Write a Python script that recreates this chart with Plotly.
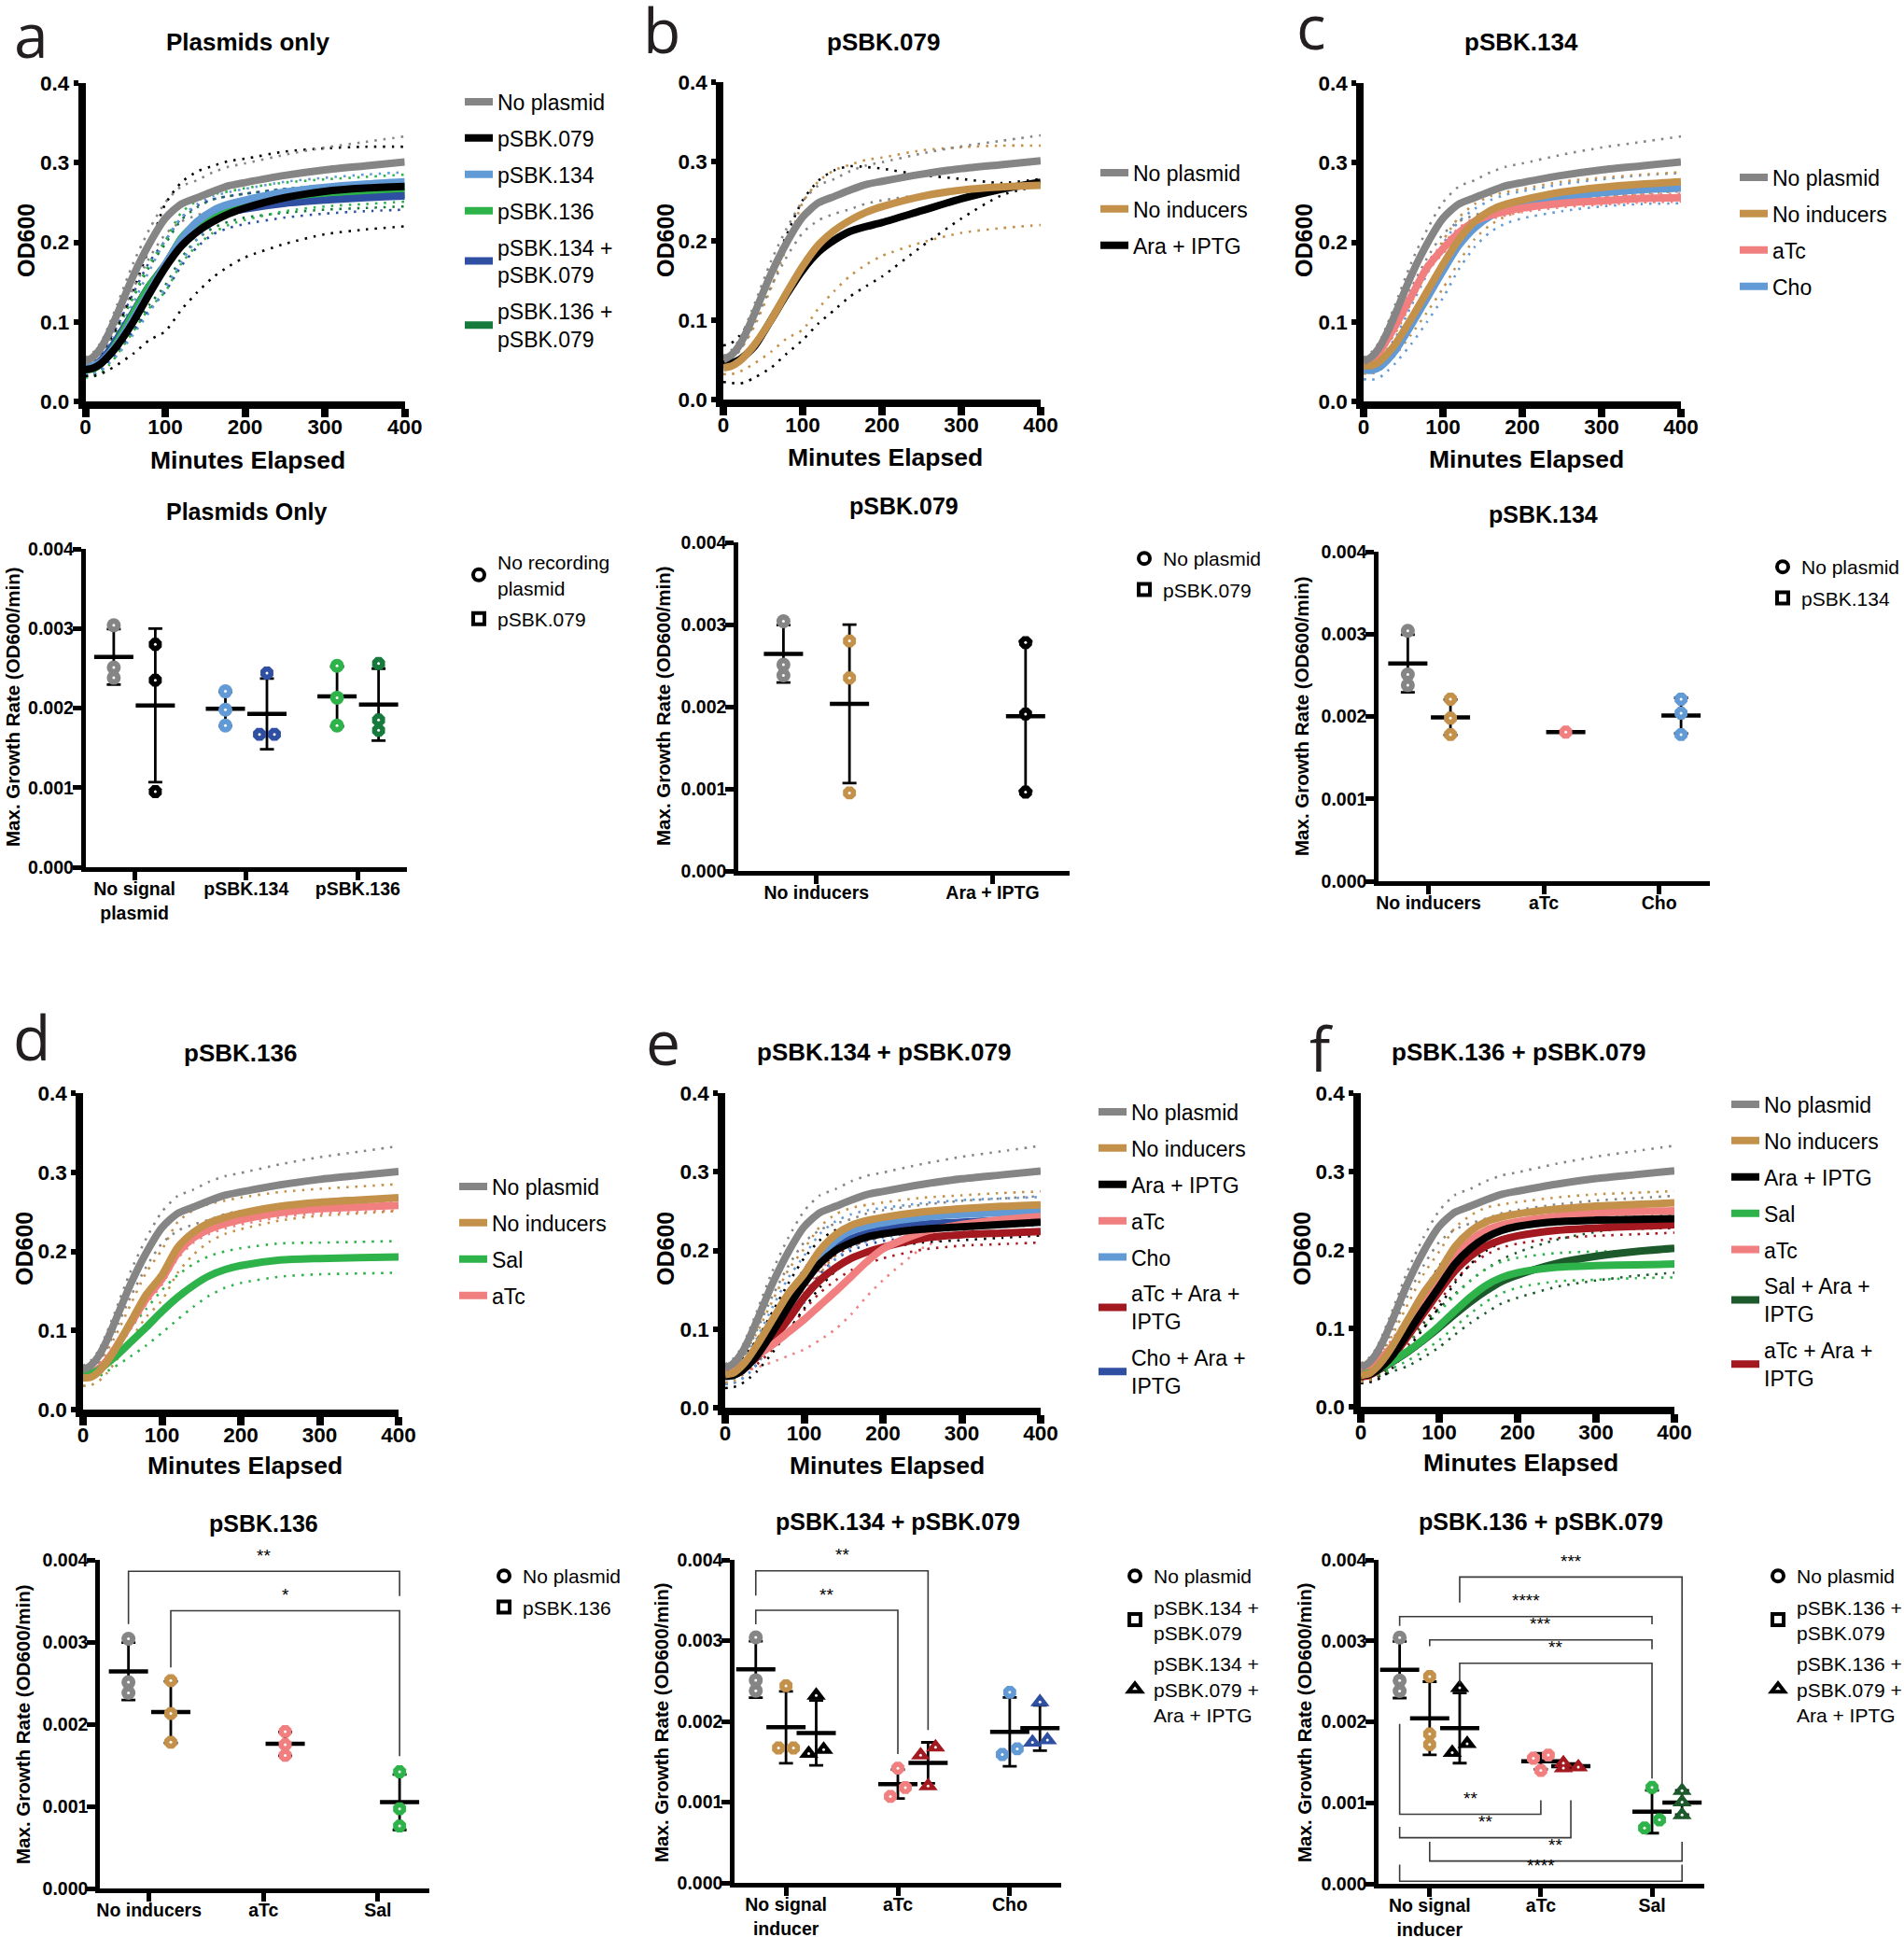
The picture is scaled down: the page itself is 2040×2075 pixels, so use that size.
import numpy as np
import plotly.graph_objects as go

W, H = 2040, 2075
SANS = "Liberation Sans, Arial, Helvetica, sans-serif"
LETTERF = "Open Sans, Noto Sans, sans-serif"

# ---------------- growth-curve data (OD600 mean and SD) ----------------
TIME = [0, 10, 20, 30, 40, 60, 80, 100, 120, 140, 160, 180, 200, 250, 300, 350, 400]

NP_MEAN = [0.050, 0.056, 0.068, 0.087, 0.110, 0.158, 0.198, 0.230, 0.248, 0.256, 0.264, 0.271, 0.275, 0.284, 0.291, 0.296, 0.301]
NP_SD = [0.005, 0.006, 0.007, 0.010, 0.012, 0.016, 0.018, 0.020, 0.022, 0.022, 0.024, 0.024, 0.024, 0.026, 0.028, 0.030, 0.032]

S079_MEAN = [0.040, 0.042, 0.048, 0.058, 0.070, 0.100, 0.135, 0.168, 0.195, 0.213, 0.226, 0.236, 0.243, 0.256, 0.264, 0.268, 0.270]
S079_SD = [0.008, 0.010, 0.013, 0.018, 0.024, 0.040, 0.058, 0.080, 0.080, 0.076, 0.070, 0.066, 0.062, 0.058, 0.054, 0.052, 0.050]

S134_MEAN = [0.045, 0.045, 0.050, 0.060, 0.072, 0.104, 0.138, 0.172, 0.203, 0.226, 0.240, 0.248, 0.253, 0.263, 0.269, 0.273, 0.276]
S134_SD = [0.010, 0.010, 0.011, 0.012, 0.014, 0.020, 0.026, 0.030, 0.028, 0.022, 0.018, 0.015, 0.014, 0.013, 0.012, 0.012, 0.012]

S136_MEAN = [0.040, 0.041, 0.048, 0.060, 0.075, 0.110, 0.145, 0.170, 0.205, 0.224, 0.236, 0.243, 0.248, 0.257, 0.262, 0.265, 0.268]
S136_SD = [0.010, 0.010, 0.012, 0.014, 0.016, 0.022, 0.028, 0.032, 0.032, 0.028, 0.024, 0.021, 0.020, 0.018, 0.017, 0.017, 0.017]

S134_079_MEAN = [0.042, 0.044, 0.052, 0.064, 0.079, 0.112, 0.145, 0.170, 0.200, 0.220, 0.232, 0.238, 0.242, 0.249, 0.253, 0.256, 0.258]
S134_079_SD = [0.010, 0.010, 0.012, 0.014, 0.016, 0.024, 0.030, 0.032, 0.030, 0.026, 0.022, 0.020, 0.019, 0.018, 0.017, 0.017, 0.017]

S136_079_MEAN = [0.040, 0.042, 0.050, 0.062, 0.077, 0.111, 0.145, 0.172, 0.204, 0.224, 0.236, 0.242, 0.246, 0.252, 0.256, 0.258, 0.260]
S136_079_SD = [0.008, 0.009, 0.010, 0.012, 0.014, 0.020, 0.024, 0.026, 0.024, 0.020, 0.018, 0.016, 0.015, 0.015, 0.015, 0.015, 0.015]

B_ARA_MEAN = [0.045, 0.046, 0.050, 0.058, 0.068, 0.100, 0.133, 0.163, 0.186, 0.201, 0.212, 0.218, 0.223, 0.238, 0.253, 0.265, 0.274]
B_ARA_SD = [0.023, 0.025, 0.030, 0.035, 0.040, 0.060, 0.075, 0.088, 0.090, 0.088, 0.082, 0.075, 0.068, 0.045, 0.025, 0.008, 0.004]

C_ATC_MEAN = [0.048, 0.052, 0.062, 0.078, 0.095, 0.132, 0.168, 0.192, 0.212, 0.226, 0.234, 0.239, 0.243, 0.249, 0.252, 0.255, 0.256]
C_ATC_SD = [0.004, 0.004, 0.004, 0.005, 0.005, 0.006, 0.006, 0.006, 0.006, 0.005, 0.005, 0.005, 0.005, 0.005, 0.005, 0.005, 0.005]
C_CHO_MEAN = [0.040, 0.039, 0.043, 0.052, 0.064, 0.096, 0.130, 0.164, 0.196, 0.218, 0.233, 0.242, 0.247, 0.256, 0.262, 0.266, 0.268]
C_CHO_SD = [0.012, 0.012, 0.013, 0.014, 0.016, 0.024, 0.030, 0.034, 0.030, 0.024, 0.020, 0.018, 0.017, 0.017, 0.017, 0.018, 0.019]

D_SAL_MEAN = [0.045, 0.046, 0.050, 0.058, 0.066, 0.085, 0.104, 0.124, 0.142, 0.157, 0.169, 0.177, 0.182, 0.189, 0.191, 0.192, 0.193]
D_SAL_SD = [0.005, 0.006, 0.008, 0.010, 0.012, 0.018, 0.023, 0.027, 0.028, 0.027, 0.025, 0.023, 0.022, 0.021, 0.020, 0.020, 0.020]
D_ATC_MEAN = [0.045, 0.046, 0.052, 0.062, 0.076, 0.108, 0.140, 0.165, 0.198, 0.217, 0.228, 0.235, 0.240, 0.249, 0.254, 0.256, 0.258]
D_ATC_SD = [0.005, 0.005, 0.005, 0.006, 0.006, 0.007, 0.007, 0.007, 0.007, 0.006, 0.006, 0.006, 0.006, 0.006, 0.006, 0.006, 0.006]

E_ARA_MEAN = [0.040, 0.041, 0.046, 0.055, 0.066, 0.096, 0.128, 0.158, 0.183, 0.200, 0.210, 0.217, 0.221, 0.227, 0.230, 0.233, 0.236]
E_ARA_SD = [0.015, 0.015, 0.016, 0.018, 0.020, 0.026, 0.030, 0.032, 0.030, 0.026, 0.022, 0.019, 0.018, 0.017, 0.017, 0.017, 0.017]
E_ATC_MEAN = [0.048, 0.050, 0.054, 0.060, 0.066, 0.080, 0.096, 0.112, 0.130, 0.148, 0.167, 0.186, 0.202, 0.223, 0.233, 0.239, 0.243]
E_ATC_SD = [0.006, 0.008, 0.010, 0.012, 0.015, 0.022, 0.030, 0.038, 0.044, 0.048, 0.048, 0.044, 0.040, 0.020, 0.010, 0.007, 0.006]
E_CHO_MEAN = [0.040, 0.041, 0.048, 0.058, 0.072, 0.104, 0.137, 0.163, 0.193, 0.213, 0.225, 0.231, 0.235, 0.242, 0.246, 0.248, 0.250]
E_CHO_SD = [0.010, 0.010, 0.012, 0.014, 0.016, 0.024, 0.028, 0.030, 0.028, 0.024, 0.021, 0.020, 0.019, 0.018, 0.018, 0.018, 0.018]
E_ATC_ARA_MEAN = [0.045, 0.046, 0.050, 0.056, 0.064, 0.086, 0.112, 0.140, 0.162, 0.178, 0.190, 0.198, 0.204, 0.215, 0.220, 0.222, 0.224]
E_ATC_ARA_SD = [0.006, 0.006, 0.007, 0.008, 0.009, 0.012, 0.014, 0.016, 0.016, 0.016, 0.015, 0.015, 0.014, 0.014, 0.014, 0.014, 0.014]
E_CHO_ARA_MEAN = [0.040, 0.041, 0.047, 0.056, 0.068, 0.099, 0.131, 0.160, 0.186, 0.204, 0.215, 0.222, 0.227, 0.233, 0.236, 0.238, 0.240]
E_CHO_ARA_SD = [0.010, 0.010, 0.011, 0.012, 0.013, 0.015, 0.016, 0.016, 0.016, 0.015, 0.015, 0.015, 0.015, 0.015, 0.015, 0.015, 0.015]

F_ARA_MEAN = [0.040, 0.041, 0.046, 0.054, 0.065, 0.094, 0.124, 0.153, 0.182, 0.202, 0.216, 0.225, 0.230, 0.236, 0.238, 0.239, 0.240]
F_ARA_SD = [0.010, 0.010, 0.012, 0.014, 0.016, 0.020, 0.024, 0.026, 0.024, 0.020, 0.017, 0.015, 0.014, 0.013, 0.012, 0.012, 0.012]
F_SAL_MEAN = [0.040, 0.043, 0.047, 0.052, 0.058, 0.071, 0.086, 0.103, 0.122, 0.140, 0.155, 0.165, 0.171, 0.178, 0.180, 0.181, 0.182]
F_SAL_SD = [0.005, 0.006, 0.007, 0.008, 0.009, 0.012, 0.015, 0.018, 0.020, 0.021, 0.021, 0.020, 0.019, 0.018, 0.018, 0.017, 0.017]
F_ATC_MEAN = [0.050, 0.052, 0.058, 0.066, 0.077, 0.106, 0.136, 0.162, 0.192, 0.212, 0.225, 0.232, 0.236, 0.243, 0.247, 0.249, 0.250]
F_ATC_SD = [0.006, 0.006, 0.007, 0.008, 0.009, 0.010, 0.011, 0.011, 0.010, 0.009, 0.009, 0.008, 0.008, 0.008, 0.008, 0.008, 0.008]
F_SAL_ARA_MEAN = [0.040, 0.042, 0.046, 0.051, 0.057, 0.070, 0.085, 0.101, 0.118, 0.134, 0.148, 0.160, 0.168, 0.183, 0.192, 0.198, 0.202]
F_SAL_ARA_SD = [0.005, 0.006, 0.008, 0.010, 0.012, 0.018, 0.022, 0.025, 0.026, 0.027, 0.028, 0.028, 0.029, 0.030, 0.031, 0.031, 0.031]
F_ATC_ARA_MEAN = [0.038, 0.040, 0.045, 0.053, 0.063, 0.090, 0.119, 0.147, 0.173, 0.192, 0.205, 0.213, 0.218, 0.225, 0.228, 0.230, 0.232]
F_ATC_ARA_SD = [0.006, 0.007, 0.008, 0.009, 0.010, 0.012, 0.013, 0.013, 0.012, 0.011, 0.011, 0.010, 0.010, 0.010, 0.010, 0.010, 0.010]

# ---------------- max growth rate data (replicates) ----------------
RATE_NP = [0.00304, 0.00251, 0.00238]
RATE_079 = [0.00280, 0.00235, 0.00095]
RATE_134 = [0.00221, 0.00198, 0.00178]
RATE_134_079 = [0.00244, 0.00167, 0.00167]
RATE_136 = [0.00253, 0.00213, 0.00178]
RATE_136_079 = [0.00256, 0.00185, 0.00172]
RATE_B_ARA = [0.00278, 0.00191, 0.00096]
RATE_C_ATC = [0.00181]
RATE_C_CHO = [0.00221, 0.00204, 0.00178]
RATE_D_ATC = [0.00191, 0.00175, 0.00162]
RATE_D_SAL = [0.00142, 0.00097, 0.00076]
RATE_E_ARA = [0.00232, 0.00165, 0.00160]
RATE_E_ATC = [0.00142, 0.00118, 0.00107]
RATE_E_ATC_ARA = [0.00168, 0.00158, 0.00120]
RATE_E_CHO = [0.00236, 0.00166, 0.00159]
RATE_E_CHO_ARA = [0.00224, 0.00177, 0.00174]
RATE_F_ARA = [0.00242, 0.00173, 0.00162]
RATE_F_ATC = [0.00159, 0.00155, 0.00140]
RATE_F_ATC_ARA = [0.00149, 0.00144, 0.00143]
RATE_F_SAL = [0.00119, 0.00079, 0.00069]
RATE_F_SAL_ARA = [0.00115, 0.00101, 0.00085]

# significance comparisons: (group i, group j, bar level, end i, end j, label)
D_COMP = [(0, 3, 0.00386, 0.00322, 0.00356, "**"), (1, 3, 0.00338, 0.00269, 0.00161, "*")]
E_COMP = [(0, 4, 0.003865, 0.003557, 0.001894, "**"), (0, 3, 0.003376, 0.003203, 0.001594, "**")]
F_COMP = [
    (2, 6, 0.003788, 0.003473, 0.001242, "***"),
    (0, 5, 0.003300, 0.003185, 0.003204, "****"),
    (1, 5, 0.003012, 0.002935, 0.002897, "***"),
    (2, 5, 0.002723, 0.002473, 0.001300, "**"),
    (0, 3, 0.000858, 0.001973, 0.001031, "**"),
    (0, 4, 0.000569, 0.000704, 0.001031, "**"),
    (1, 6, 0.000281, 0.000519, 0.000519, "**"),
    (0, 6, 0.000031, 0.000235, 0.000235, "****"),
]

GREY = "#858585"
BLACK = "#000000"
LBLUE = "#629ad6"
GREEN = "#2eb34a"
DBLUE = "#2f4fa2"
DGREEN = "#157a3c"
DDGREEN = "#1d5a2b"
GOLD = "#c4914a"
PINK = "#f17f7f"
DRED = "#a3191f"


def fx(px):
    return px / W


def fy(py):
    return 1 - py / H


def names(n):
    s = "" if n == 1 else str(n)
    return "x" + s, "y" + s, "xaxis" + s, "yaxis" + s, "legend" + s


fig = go.Figure()
layout = dict(width=W, height=H, margin=dict(l=0, r=0, t=0, b=0, autoexpand=False),
              paper_bgcolor="white", plot_bgcolor="white",
              font=dict(family=SANS, color="black"), showlegend=True)
annotations = []
shapes = []

GAX = dict(showline=True, linewidth=7.5, linecolor="black", ticks="outside", tickcolor="black",
           tickfont=dict(family=SANS, size=22.5, color="black", weight="bold"),
           showgrid=False, zeroline=False, fixedrange=True)
RAX = dict(showline=True, linewidth=4.5, linecolor="black", ticks="outside", tickcolor="black",
           tickfont=dict(family=SANS, size=19.5, color="black", weight="bold"),
           showgrid=False, zeroline=False, fixedrange=True, ticklen=9, tickwidth=4.5)


def growth_panel(n, box, leg, series):
    xr, yr, xk, yk, lg = names(n)
    x0, x1, y0, y1 = box
    layout[xk] = dict(domain=[fx(x0), fx(x1)], anchor=yr, range=[0, 400],
                      tickvals=[0, 100, 200, 300, 400], ticklen=9, tickwidth=8,
                      ticklabelstandoff=-9, **GAX)
    layout[yk] = dict(domain=[fy(y1), fy(y0)], anchor=xr, range=[0, 0.4],
                      tickvals=[0, 0.1, 0.2, 0.3, 0.4], tickformat=".1f", ticklen=5, tickwidth=6, **GAX)
    layout[lg] = dict(x=fx(leg[0]), y=fy(leg[1]), xanchor="left", yanchor="top",
                      font=dict(family=SANS, size=23, color="black"), tracegroupgap=6,
                      traceorder="grouped", bgcolor="rgba(0,0,0,0)", borderwidth=0, itemwidth=30)
    order = list(enumerate(series))[::-1]
    for i, (label, color, mean, sd) in order:
        m = np.asarray(mean)
        s = np.asarray(sd)
        for band in (m + s, m - s):
            fig.add_trace(go.Scatter(x=TIME, y=band, mode="lines", xaxis=xr, yaxis=yr,
                                     line=dict(color=color, width=2.6, dash="2.5px,7px",
                                               shape="spline", smoothing=0.7),
                                     showlegend=False, hoverinfo="skip"))
    for i, (label, color, mean, sd) in order:
        fig.add_trace(go.Scatter(x=TIME, y=mean, mode="lines", xaxis=xr, yaxis=yr, name=label,
                                 line=dict(color=color, width=8, shape="spline", smoothing=0.7),
                                 legend=lg, legendgroup="g%d_%d" % (n, i), legendrank=i + 1))


def swarm(vals, d, thr=0.00012):
    v = np.asarray(vals, float)
    order = np.argsort(v)
    offs = np.zeros(len(v))
    for k in range(1, len(order)):
        i, j = order[k], order[k - 1]
        if abs(v[i] - v[j]) < thr:
            if offs[j] == 0:
                offs[j] = -d
                offs[i] = d
            else:
                offs[i] = -offs[j]
    return offs


def rate_panel(n, box, xrange_, cats, groups, leg, legend_items, comps=()):
    xr, yr, xk, yk, lg = names(n)
    x0, x1, y0, y1 = box
    layout[xk] = dict(domain=[fx(x0), fx(x1)], anchor=yr, range=xrange_,
                      tickvals=list(range(len(cats))), ticktext=cats, ticklabelstandoff=-7, **RAX)
    layout[yk] = dict(domain=[fy(y1), fy(y0)], anchor=xr, range=[0, 0.004],
                      tickvals=[0, 0.001, 0.002, 0.003, 0.004], tickformat=".3f",
                      ticklabelstandoff=-5, **RAX)
    layout[lg] = dict(x=fx(leg[0]), y=fy(leg[1]), xanchor="left", yanchor="top",
                      font=dict(family=SANS, size=21, color="black"), tracegroupgap=3,
                      traceorder="grouped", bgcolor="rgba(0,0,0,0)", borderwidth=0, itemwidth=30)
    ppu = (x1 - x0) / (xrange_[1] - xrange_[0])
    jit = 8.0 / ppu
    pos = []
    for (cat, off, color, symbol, vals) in groups:
        xc = cat + off
        v = np.asarray(vals, float)
        mean = v.mean()
        sd = v.std(ddof=1) if len(v) > 1 else 0.0
        fig.add_trace(go.Scatter(x=[xc], y=[mean], mode="markers", xaxis=xr, yaxis=yr,
                                 marker=dict(symbol="line-ew", size=30, color="black",
                                             line=dict(width=4.5, color="black")),
                                 error_y=dict(type="data", array=[sd], visible=True, color="black",
                                              thickness=2.8, width=7.5),
                                 showlegend=False, hoverinfo="skip"))
        xs = xc + swarm(v, jit)
        fig.add_trace(go.Scatter(x=xs, y=v, mode="markers", xaxis=xr, yaxis=yr,
                                 marker=dict(symbol=symbol, size=15 if symbol != "triangle-up" else 18,
                                             color=color, line=dict(width=0)),
                                 showlegend=False))
        fig.add_trace(go.Scatter(x=xs, y=v, mode="markers", xaxis=xr, yaxis=yr,
                                 marker=dict(symbol="circle", size=3, color="white"),
                                 showlegend=False, hoverinfo="skip"))
        pos.append(xc)
    for k, (label, symbol) in enumerate(legend_items):
        fig.add_trace(go.Scatter(x=[None], y=[None], mode="markers", xaxis=xr, yaxis=yr, name=label,
                                 marker=dict(symbol=symbol + "-open", size=12, color="black",
                                             line=dict(width=4, color="black")),
                                 legend=lg, legendgroup="r%d_%d" % (n, k), legendrank=k + 1))
    for (gi, gj, ybar, yi, yj, label) in comps:
        xi, xj = pos[gi], pos[gj]
        shapes.append(dict(type="path", xref=xr, yref=yr,
                           path="M %f,%f L %f,%f L %f,%f L %f,%f" % (xi, yi, xi, ybar, xj, ybar, xj, yj),
                           line=dict(color="#3a3a3a", width=1.6)))
        annotations.append(dict(x=(xi + xj) / 2, y=ybar + 0.00005, xref=xr, yref=yr, text=label,
                                showarrow=False, yanchor="bottom",
                                font=dict(family=SANS, size=19, color="black")))


# ---------------- growth panels ----------------
growth_panel(1, (91.5, 433.7, 89, 430), (493, 87.5), [
    ("No plasmid", GREY, NP_MEAN, NP_SD),
    ("pSBK.079", BLACK, S079_MEAN, S079_SD),
    ("pSBK.134", LBLUE, S134_MEAN, S134_SD),
    ("pSBK.136", GREEN, S136_MEAN, S136_SD),
    ("pSBK.134 +<br>pSBK.079", DBLUE, S134_079_MEAN, S134_079_SD),
    ("pSBK.136 +<br>pSBK.079", DGREEN, S136_079_MEAN, S136_079_SD),
])
growth_panel(2, (775, 1115, 88, 428), (1174, 163.5), [
    ("No plasmid", GREY, NP_MEAN, NP_SD),
    ("No inducers", GOLD, S079_MEAN, S079_SD),
    ("Ara + IPTG", BLACK, B_ARA_MEAN, B_ARA_SD),
])
growth_panel(3, (1461, 1801, 89, 430), (1859, 168.5), [
    ("No plasmid", GREY, NP_MEAN, NP_SD),
    ("No inducers", GOLD, S134_MEAN, S134_SD),
    ("aTc", PINK, C_ATC_MEAN, C_ATC_SD),
    ("Cho", LBLUE, C_CHO_MEAN, C_CHO_SD),
])
growth_panel(7, (89, 427, 1171, 1510), (487, 1249.5), [
    ("No plasmid", GREY, NP_MEAN, NP_SD),
    ("No inducers", GOLD, S136_MEAN, S136_SD),
    ("Sal", GREEN, D_SAL_MEAN, D_SAL_SD),
    ("aTc", PINK, D_ATC_MEAN, D_ATC_SD),
])
growth_panel(8, (777, 1115, 1171, 1508), (1172, 1169.5), [
    ("No plasmid", GREY, NP_MEAN, NP_SD),
    ("No inducers", GOLD, S134_079_MEAN, S134_079_SD),
    ("Ara + IPTG", BLACK, E_ARA_MEAN, E_ARA_SD),
    ("aTc", PINK, E_ATC_MEAN, E_ATC_SD),
    ("Cho", LBLUE, E_CHO_MEAN, E_CHO_SD),
    ("aTc + Ara +<br>IPTG", DRED, E_ATC_ARA_MEAN, E_ATC_ARA_SD),
    ("Cho + Ara +<br>IPTG", DBLUE, E_CHO_ARA_MEAN, E_CHO_ARA_SD),
])
growth_panel(9, (1458, 1794, 1171, 1507), (1850, 1161.5), [
    ("No plasmid", GREY, NP_MEAN, NP_SD),
    ("No inducers", GOLD, S136_079_MEAN, S136_079_SD),
    ("Ara + IPTG", BLACK, F_ARA_MEAN, F_ARA_SD),
    ("Sal", GREEN, F_SAL_MEAN, F_SAL_SD),
    ("aTc", PINK, F_ATC_MEAN, F_ATC_SD),
    ("Sal + Ara +<br>IPTG", DDGREEN, F_SAL_ARA_MEAN, F_SAL_ARA_SD),
    ("aTc + Ara +<br>IPTG", DRED, F_ATC_ARA_MEAN, F_ATC_ARA_SD),
])

# ---------------- growth-rate panels ----------------
L2, R2 = -0.186, 0.186
L3, M3, R3 = -0.27, 0.0, 0.27
rate_panel(4, (91.5, 436, 588, 929), [-0.44, 2.44], ["No signal<br>plasmid", "pSBK.134", "pSBK.136"], [
    (0, L2, GREY, "circle", RATE_NP), (0, R2, BLACK, "octagon", RATE_079),
    (1, L2, LBLUE, "circle", RATE_134), (1, R2, DBLUE, "octagon", RATE_134_079),
    (2, L2, GREEN, "circle", RATE_136), (2, R2, DGREEN, "octagon", RATE_136_079),
], (493, 582), [("No recording<br>plasmid", "circle"), ("pSBK.079", "square")])
rate_panel(5, (791, 1146, 581, 933), [-0.444, 1.4375], ["No inducers", "Ara + IPTG"], [
    (0, -0.1875, GREY, "circle", RATE_NP), (0, 0.1875, GOLD, "octagon", RATE_079),
    (1, 0.1875, BLACK, "octagon", RATE_B_ARA),
], (1206, 578), [("No plasmid", "circle"), ("pSBK.079", "square")])
rate_panel(6, (1477, 1832, 591, 944), [-0.434, 2.44], ["No inducers", "aTc", "Cho"], [
    (0, -0.18, GREY, "circle", RATE_NP), (0, 0.19, GOLD, "octagon", RATE_134),
    (1, 0.19, PINK, "octagon", RATE_C_ATC), (2, 0.19, LBLUE, "octagon", RATE_C_CHO),
], (1890, 587), [("No plasmid", "circle"), ("pSBK.134", "square")])
rate_panel(10, (107, 460, 1671, 2023), [-0.43, 2.45], ["No inducers", "aTc", "Sal"], [
    (0, -0.18, GREY, "circle", RATE_NP), (0, 0.19, GOLD, "octagon", RATE_136),
    (1, 0.19, PINK, "octagon", RATE_D_ATC), (2, 0.19, GREEN, "octagon", RATE_D_SAL),
], (520, 1668), [("No plasmid", "circle"), ("pSBK.136", "square")], D_COMP)
rate_panel(11, (787, 1137, 1671, 2017), [-0.46, 2.46], ["No signal<br>inducer", "aTc", "Cho"], [
    (0, L3, GREY, "circle", RATE_NP), (0, M3, GOLD, "octagon", RATE_134_079),
    (0, R3, BLACK, "triangle-up", RATE_E_ARA),
    (1, M3, PINK, "octagon", RATE_E_ATC), (1, R3, DRED, "triangle-up", RATE_E_ATC_ARA),
    (2, M3, LBLUE, "octagon", RATE_E_CHO), (2, R3, DBLUE, "triangle-up", RATE_E_CHO_ARA),
], (1196, 1668), [("No plasmid", "circle"), ("pSBK.134 +<br>pSBK.079", "square"),
                  ("pSBK.134 +<br>pSBK.079 +<br>Ara + IPTG", "triangle-up")], E_COMP)
rate_panel(12, (1477, 1826, 1671, 2018), [-0.46, 2.47], ["No signal<br>inducer", "aTc", "Sal"], [
    (0, L3, GREY, "circle", RATE_NP), (0, M3, GOLD, "octagon", RATE_136_079),
    (0, R3, BLACK, "triangle-up", RATE_F_ARA),
    (1, M3, PINK, "octagon", RATE_F_ATC), (1, R3, DRED, "triangle-up", RATE_F_ATC_ARA),
    (2, M3, GREEN, "octagon", RATE_F_SAL), (2, R3, DDGREEN, "triangle-up", RATE_F_SAL_ARA),
], (1885, 1668), [("No plasmid", "circle"), ("pSBK.136 +<br>pSBK.079", "square"),
                  ("pSBK.136 +<br>pSBK.079 +<br>Ara + IPTG", "triangle-up")], F_COMP)


# ---------------- texts ----------------
def text(t, x, y, size, family, bold=True, angle=0, color="black"):
    annotations.append(dict(text=t, x=fx(x), y=fy(y), xref="paper", yref="paper", showarrow=False,
                            xanchor="center", yanchor="middle", textangle=angle,
                            font=dict(family=family, size=size, color=color,
                                      weight="bold" if bold else "normal")))


for t, x, y in [("a", 33, 36), ("b", 709, 31), ("c", 1405, 27), ("d", 34, 1109.5), ("e", 710, 1114.5), ("f", 1416, 1122)]:
    text(t, x, y, 66, LETTERF, bold=False, color="#231f20")

for t, x, y in [("Plasmids only", 265, 45), ("pSBK.079", 946, 45), ("pSBK.134", 1630, 45),
                ("pSBK.136", 257, 1128), ("pSBK.134 + pSBK.079", 947, 1127), ("pSBK.136 + pSBK.079", 1627, 1127)]:
    text(t, x, y, 26, SANS)
for t, x, y in [("Plasmids Only", 264, 548), ("pSBK.079", 968, 542), ("pSBK.134", 1653, 551),
                ("pSBK.136", 282, 1632), ("pSBK.134 + pSBK.079", 962, 1630), ("pSBK.136 + pSBK.079", 1651, 1630)]:
    text(t, x, y, 25, SANS)
for x, y in [(265, 493), (948, 490), (1635, 492), (262, 1570), (950, 1570), (1629, 1567)]:
    text("Minutes Elapsed", x, y, 26.5, SANS)
for x, y in [(28, 258), (713, 258), (1397, 258), (26, 1338), (713, 1338), (1395, 1338)]:
    text("OD600", x, y, 25, SANS, angle=-90)
for x, y in [(13, 757), (711, 756), (1395, 767), (24, 1847), (708, 1845), (1397, 1845)]:
    text("Max. Growth Rate (OD600/min)", x, y, 20.5, SANS, angle=-90)

layout["annotations"] = annotations
layout["shapes"] = shapes
fig.update_layout(**layout)
fig.write_html("out.html", config={"displayModeBar": False},
               post_script="document.body.style.margin='0px';document.body.style.padding='0px';")
